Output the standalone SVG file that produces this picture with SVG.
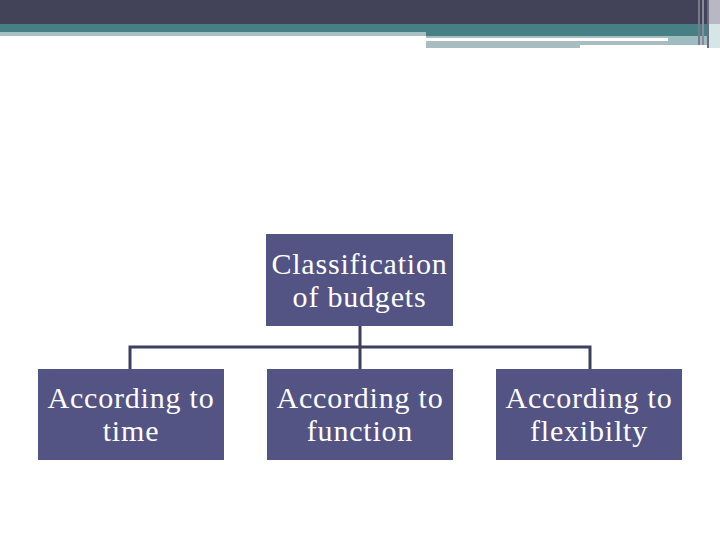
<svg xmlns="http://www.w3.org/2000/svg" width="720" height="540" viewBox="0 0 720 540">
<style>
.node rect{fill:#535384;}
.node text{font-family:"Liberation Serif","Times New Roman",serif;font-size:30px;fill:#ffffff;text-anchor:middle;letter-spacing:0.8px;}
.conn{stroke:#3e3e5e;stroke-width:3;fill:none;}
</style>
<rect width="720" height="540" fill="#ffffff"/>
<g id="header">
<rect x="0" y="0" width="720" height="24" fill="#424258"/>
<rect x="0" y="24" width="720" height="8" fill="#467f84"/>
<rect x="426" y="32" width="284" height="4" fill="#467f84"/>
<rect x="0" y="32" width="426" height="4" fill="#a7c0c3"/>
<rect x="426" y="36" width="242" height="2" fill="#a7bdbf"/>
<rect x="426" y="41" width="154" height="7" fill="#a7bdbf"/>
<rect x="580" y="41" width="128" height="4" fill="#a7bdbf"/>
<rect x="668" y="36" width="40" height="9" fill="#9fbdc0"/>
<rect x="708" y="0" width="12" height="24" fill="#b8b8c2"/>
<rect x="708" y="24" width="12" height="24" fill="#d6e6e7"/>
<rect x="698" y="0" width="2" height="45" fill="#7a7a8e"/>
<rect x="702" y="0" width="2" height="45" fill="#8a8a9c"/>
<rect x="707" y="0" width="2" height="48" fill="#6a6a80"/>
</g>
<g id="connectors">
<path class="conn" d="M360 325 V347 M130 369 V347 H590 V369 M360 347 V369"/>
</g>
<g id="root" class="node">
<rect x="266" y="234" width="187" height="92"/>
<text x="359.5" y="274">Classification</text>
<text x="359.5" y="307">of budgets</text>
</g>
<g id="time" class="node">
<rect x="38" y="369" width="186" height="91"/>
<text x="131" y="408">According to</text>
<text x="131" y="441">time</text>
</g>
<g id="function" class="node">
<rect x="267" y="369" width="186" height="91"/>
<text x="360" y="408">According to</text>
<text x="360" y="441">function</text>
</g>
<g id="flexibility" class="node">
<rect x="496" y="369" width="186" height="91"/>
<text x="589" y="408">According to</text>
<text x="589" y="441">flexibilty</text>
</g>
</svg>
